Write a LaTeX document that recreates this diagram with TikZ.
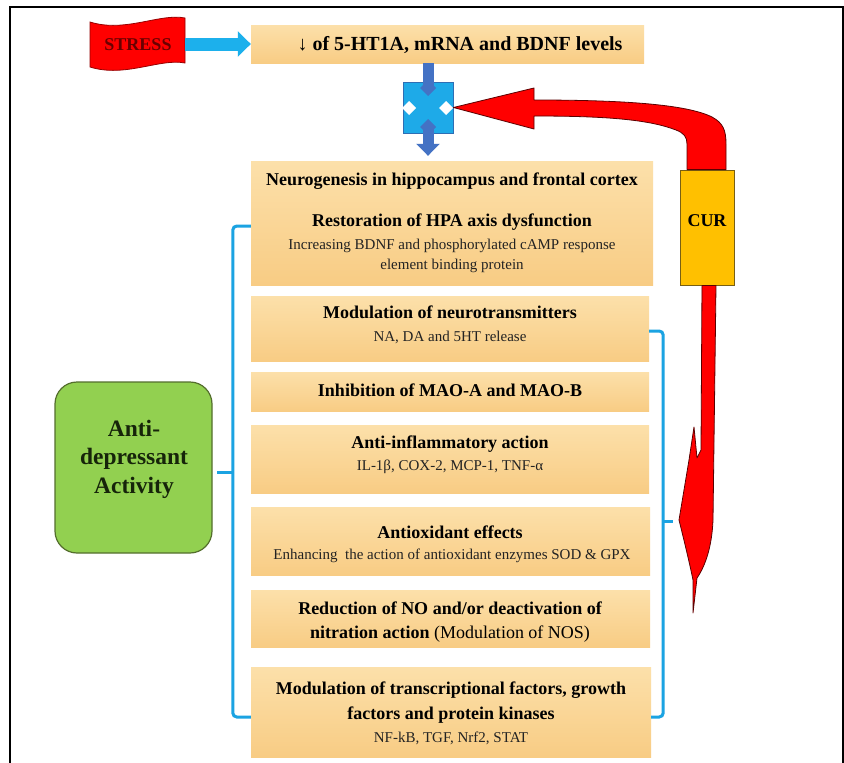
\documentclass[tikz,border=0pt]{standalone}
\usepackage{fontspec}
\setmainfont{Liberation Serif}
\usetikzlibrary{arrows.meta,calc}

\definecolor{panelTop}{RGB}{252,224,170}
\definecolor{panelBot}{RGB}{248,204,132}
\definecolor{flagred}{RGB}{255,0,0}
\definecolor{flagedge}{RGB}{150,0,0}
\definecolor{stressink}{RGB}{105,0,0}
\definecolor{skyblue}{RGB}{28,176,236}
\definecolor{royal}{RGB}{68,114,196}
\definecolor{squarefill}{RGB}{30,170,232}
\definecolor{squareedge}{RGB}{46,110,180}
\definecolor{curgold}{RGB}{255,192,0}
\definecolor{curedge}{RGB}{120,95,20}
\definecolor{leafgreen}{RGB}{146,208,80}
\definecolor{leafedge}{RGB}{84,110,45}
\definecolor{greenink}{RGB}{22,36,10}
\definecolor{bracecyan}{RGB}{27,163,226}
\definecolor{subink}{RGB}{35,35,35}
\definecolor{arrowedge}{RGB}{90,0,0}

\begin{document}
\begin{tikzpicture}[x=1pt,y=-1pt,
  panel/.style={rectangle, inner sep=0pt, top color=panelTop, bottom color=panelBot, draw=none},
  hd/.style={anchor=base, inner sep=0pt, font=\fontsize{18}{21}\selectfont\bfseries},
  sub/.style={anchor=base, inner sep=0pt, text=subink, font=\fontsize{15}{18}\selectfont},
  brace/.style={draw=bracecyan, line width=3pt, rounded corners=4pt},
  redshape/.style={fill=flagred, draw=arrowedge, line width=0.8pt, line join=round}]

\useasboundingbox (0,0) rectangle (844,763);
\fill[white] (0,0) rectangle (844,763);

% outer frame
\draw[line width=2pt] (843,763) -- (843,7) -- (10,7) -- (10,763);

% STRESS banner
\path[fill=flagred, draw=flagedge, line width=0.8pt]
  (90,22) .. controls (125,33) and (160,13) .. (185,18)
  -- (185,63) .. controls (160,58) and (125,78) .. (90,67) -- cycle;
\node[minimum width=95pt, minimum height=46pt, inner sep=0pt] (stress) at (137.5,44) {};
\node[anchor=base, inner sep=0pt, text=stressink, font=\fontsize{18}{21}\selectfont\bfseries] (stresslbl) at (138,50) {STRESS};

% panels
\node[panel, minimum width=393pt, minimum height=38pt] (top) at (447.5,44) {};
\node[panel, minimum width=402pt, minimum height=124pt] (b1) at (452,223) {};
\node[panel, minimum width=398pt, minimum height=65pt] (b2) at (450,328.5) {};
\node[panel, minimum width=398pt, minimum height=39pt] (b3) at (450,391.5) {};
\node[panel, minimum width=398pt, minimum height=68pt] (b4) at (450,459) {};
\node[panel, minimum width=399pt, minimum height=68pt] (b5) at (450.5,541) {};
\node[panel, minimum width=399pt, minimum height=57pt] (b6) at (450.5,618.5) {};
\node[panel, minimum width=400pt, minimum height=90pt] (b7) at (451,712) {};

% STRESS -> first panel
\draw[skyblue, line width=13pt, -{Triangle[length=13pt,width=25pt]}]
  (stress.east |- top.west) -- (top.west);

% panel texts
\node[hd, font=\fontsize{20}{23}\selectfont\bfseries] (t0) at (460,50.5) {↓ of 5-HT1A, mRNA and BDNF levels};
\node[hd] (t1a) at (452,185) {Neurogenesis in hippocampus and frontal cortex};
\node[hd] (t1b) at (452,226) {Restoration of HPA axis dysfunction};
\node[sub] (t1c) at (452,249) {Increasing BDNF and phosphorylated cAMP response};
\node[sub] (t1d) at (452,269) {element binding protein};
\node[hd] (t2a) at (450,318) {Modulation of neurotransmitters};
\node[sub] (t2b) at (450,341) {NA, DA and 5HT release};
\node[hd] (t3a) at (450,396) {Inhibition of MAO-A and MAO-B};
\node[hd] (t4a) at (450,448) {Anti-inflammatory action};
\node[sub] (t4b) at (450,470) {IL-1β, COX-2, MCP-1, TNF-α};
\node[hd] (t5a) at (450,538) {Antioxidant effects};
\node[sub] (t5b) at (452,559) {Enhancing \ the action of antioxidant enzymes SOD \& GPX};
\node[hd] (t6a) at (450,614) {Reduction of NO and/or deactivation of};
\node[anchor=base, inner sep=0pt, font=\fontsize{18}{21}\selectfont] (t6b) at (450,638)
  {\textbf{nitration action} (Modulation of NOS)};
\node[hd] (t7a) at (451,694) {Modulation of transcriptional factors, growth};
\node[hd] (t7b) at (451,719) {factors and protein kinases};
\node[sub] (t7c) at (451,742) {NF-kB, TGF, Nrf2, STAT};

% junction block
\node[rectangle, fill=squarefill, draw=squareedge, line width=0.8pt,
      minimum width=50pt, minimum height=51pt, inner sep=0pt] (sq) at (428,107.5) {};
\draw[royal, line width=11pt] (top.south -| sq.north) -- (428,86);
\fill[royal] (428,80) -- (436,88) -- (428,96) -- (420,88) -- cycle;
\fill[royal] (428,119) -- (436,127) -- (428,135) -- (420,127) -- cycle;
\fill[white] (409,101) -- (416,108) -- (409,115) -- (402,108) -- cycle;
\fill[white] (446,101) -- (453,108) -- (446,115) -- (439,108) -- cycle;
\draw[royal, line width=11pt, -{Triangle[length=12pt,width=23pt]}]
  (428,128) -- ($(b1.north -| sq.south)+(0,-5)$);

% CUR block
\node[rectangle, fill=curgold, draw=curedge, line width=0.8pt,
      minimum width=54pt, minimum height=115pt, inner sep=0pt] (cur) at (707,227.5) {};
\node[anchor=base, inner sep=0pt, font=\fontsize{18}{21}\selectfont\bfseries] (curlbl) at (707,226) {CUR};

% curved arrow from CUR back to the junction
\path[redshape]
  (sq.east) -- (534,88) -- (534,100)
  .. controls (620,100) and (686,104) .. (712,117)
  .. controls (723,123) and (726,130) .. (726,144)
  -- ($(cur.north)+(19,0)$) -- ($(cur.north)+(-20,0)$) -- (687,144)
  .. controls (687,137) and (684,133) .. (676,130)
  .. controls (650,120) and (610,116) .. (534,116)
  -- (534,129) -- cycle;

% arrow from CUR down along the panels
\path[redshape]
  ($(cur.south)+(-5,0)$) -- (701,450) -- (697,458) -- (694,427) -- (689,460)
  -- (679,520) .. controls (684,540) and (690,565) .. (693,580)
  -- (693,613) -- (697,578)
  .. controls (706,565) and (712,545) .. (713,520)
  -- ($(cur.south)+(9,0)$) -- cycle;

% activity box
\node[rectangle, rounded corners=22pt, fill=leafgreen, draw=leafedge, line width=1.2pt,
      minimum width=157pt, minimum height=171pt, inner sep=0pt] (act) at (133.5,467.5) {};
\node[align=center, inner sep=0pt, text=greenink, font=\fontsize{23.5}{28.5}\selectfont\bfseries]
  (actlbl) at (134,459) {Anti-\\depressant\\Activity};

% braces
\draw[brace] ($(b1.west)+(0,3)$) -- ++(-18,0) |- ($(b7.west)+(0,5)$);
\draw[brace] (233,472) -- ++(-16,0);
\draw[brace] ($(b2.east)+(0,2.5)$) -- ++(14,0) |- ($(b7.east)+(0,5)$);
\draw[brace] (663,521) -- ++(10,0);

\end{tikzpicture}
\end{document}
